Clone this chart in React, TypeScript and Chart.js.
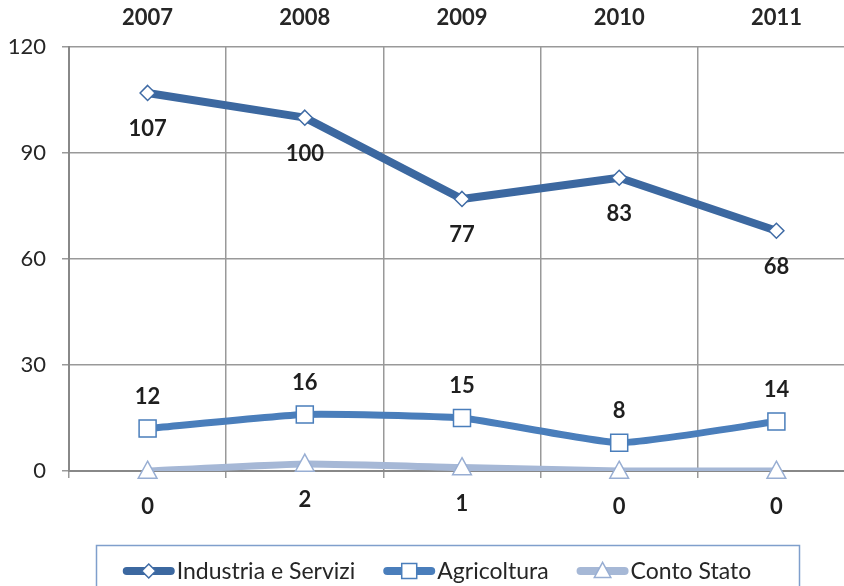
import { useEffect, useRef } from "react";
import { Chart, registerables } from "chart.js";

Chart.register(...registerables);

const years = ["2007", "2008", "2009", "2010", "2011"];
const industria = [107, 100, 77, 83, 68];
const agricoltura = [12, 16, 15, 8, 14];
const contoStato = [0, 2, 1, 0, 0];
const seriesNames = ["Industria e Servizi", "Agricoltura", "Conto Stato"];
const yMin = 0;
const yMax = 120;
const yStep = 30;

const colors = ["#3C68A0", "#4A7EBB", "#A6B8D6"];
const markerBorders = ["#3F6BA5", "#4A7EBB", "#98AED3"];
const markerStyles = ["diamond", "square", "triangle"];
const labelPlacement = ["below", "above", "below"];

const W = 870;
const H = 586;

function drawMarker(ctx: CanvasRenderingContext2D, style: string, x: number, y: number, s: number, stroke: string) {
  ctx.beginPath();
  if (style === "diamond") {
    ctx.moveTo(x, y - s);
    ctx.lineTo(x + s, y);
    ctx.lineTo(x, y + s);
    ctx.lineTo(x - s, y);
    ctx.closePath();
  } else if (style === "square") {
    ctx.rect(x - s, y - s, 2 * s, 2 * s);
  } else {
    ctx.moveTo(x, y - s * 1.15);
    ctx.lineTo(x + s * 1.1, y + s * 0.85);
    ctx.lineTo(x - s * 1.1, y + s * 0.85);
    ctx.closePath();
  }
  ctx.fillStyle = "#ffffff";
  ctx.fill();
  ctx.lineWidth = 1.5;
  ctx.strokeStyle = stroke;
  ctx.stroke();
}

const valueLabels = {
  id: "valueLabels",
  afterDatasetsDraw(chart: any) {
    const ctx = chart.ctx as CanvasRenderingContext2D;
    ctx.save();
    ctx.font = "bold 22px Lato";
    ctx.fillStyle = "#1f1f1f";
    ctx.textAlign = "center";
    ctx.textBaseline = "middle";
    chart.data.datasets.forEach((ds: any, i: number) => {
      const meta = chart.getDatasetMeta(i);
      meta.data.forEach((pt: any, j: number) => {
        const y = labelPlacement[i] === "above" ? pt.y - 32 : pt.y + 36;
        ctx.fillText(String(ds.data[j]), pt.x, y);
      });
    });
    ctx.restore();
  },
};

const customMarkers = {
  id: "customMarkers",
  afterDatasetsDraw(chart: any) {
    const ctx = chart.ctx as CanvasRenderingContext2D;
    ctx.save();
    const n = chart.data.datasets.length;
    for (let i = n - 1; i >= 0; i--) {
      const meta = chart.getDatasetMeta(i);
      const size = i === 0 ? 7.5 : 8.5;
      meta.data.forEach((pt: any) => {
        drawMarker(ctx, markerStyles[i], pt.x, pt.y, size, markerBorders[i]);
      });
    }
    ctx.restore();
  },
};

const legendBox = {
  id: "legendBox",
  afterDraw(chart: any) {
    const ctx = chart.ctx as CanvasRenderingContext2D;
    ctx.save();
    ctx.strokeStyle = "#7F9FCC";
    ctx.lineWidth = 1.5;
    ctx.strokeRect(96.5, 545.5, 703, 60);
    ctx.font = "23px Lato";
    const symW = 52;
    const gap = 28;
    const items = chart.data.datasets.map((d: any) => ({
      label: d.label,
      w: symW + 2 + ctx.measureText(d.label).width,
    }));
    const total = items.reduce((a: number, b: any) => a + b.w, 0) + gap * (items.length - 1);
    let x = 437 - total / 2;
    const y = 571;
    items.forEach((it: any, i: number) => {
      ctx.beginPath();
      ctx.lineCap = "round";
      ctx.lineWidth = 8;
      ctx.strokeStyle = colors[i];
      ctx.moveTo(x + 4, y);
      ctx.lineTo(x + symW - 4, y);
      ctx.stroke();
      drawMarker(ctx, markerStyles[i], x + symW / 2, y, i === 0 ? 7 : 7.5, markerBorders[i]);
      ctx.fillStyle = "#262626";
      ctx.textAlign = "left";
      ctx.textBaseline = "middle";
      ctx.fillText(it.label, x + symW + 2, y + 1);
      x += it.w + gap;
    });
    ctx.restore();
  },
};

export default function App() {
  const canvasRef = useRef<HTMLCanvasElement | null>(null);

  useEffect(() => {
    document.body.style.margin = "0";
    document.body.style.overflow = "hidden";
    document.documentElement.style.overflow = "hidden";
    const canvas = canvasRef.current;
    if (!canvas) return;
    const seriesData = [industria, agricoltura, contoStato];
    const chart = new Chart(canvas, {
      type: "line",
      data: {
        labels: years,
        datasets: seriesData.map((d, i) => ({
          label: seriesNames[i],
          data: d,
          borderColor: colors[i],
          backgroundColor: colors[i],
          borderWidth: i === 0 ? 8 : 7,
          tension: i === 0 ? 0 : 0.15,
          pointRadius: 0,
          pointHoverRadius: 0,
          fill: false,
          borderCapStyle: "butt",
          borderJoinStyle: "round",
          xAxisID: "x",
          yAxisID: "y",
        })),
      },
      options: {
        responsive: false,
        animation: false,
        devicePixelRatio: 1,
        layout: { padding: { left: 0, right: 15, top: 0, bottom: 107 } },
        plugins: {
          legend: { display: false },
          tooltip: { enabled: false },
          title: { display: false },
        },
        scales: {
          x: {
            type: "category",
            position: "bottom",
            offset: true,
            grid: {
              offset: true,
              display: true,
              drawOnChartArea: true,
              drawTicks: true,
              tickLength: 7,
              color: "#999999",
              lineWidth: 1.5,
            },
            border: { display: true, color: "#888888", width: 2 },
            ticks: { display: false },
            afterFit(scale: any) {
              scale.height = 8;
            },
          },
          x2: {
            type: "category",
            position: "top",
            offset: true,
            grid: { display: false, drawTicks: false },
            border: { display: false },
            ticks: {
              display: true,
              padding: 16,
              color: "#262626",
              font: { family: "Lato", size: 22, weight: "bold" },
              maxRotation: 0,
            },
            afterFit(scale: any) {
              scale.height = 47;
            },
          },
          y: {
            type: "linear",
            min: yMin,
            max: yMax,
            position: "left",
            grid: {
              color: "#999999",
              lineWidth: 1.5,
              drawTicks: true,
              tickLength: 7,
            },
            border: { display: true, color: "#888888", width: 2 },
            ticks: {
              stepSize: yStep,
              padding: 16,
              color: "#262626",
              font: { family: "Lato", size: 22 },
            },
            afterFit(scale: any) {
              scale.width = 69;
            },
          },
        },
      },
      plugins: [customMarkers, valueLabels, legendBox],
    } as any);
    return () => chart.destroy();
  }, []);

  return (
    <div style={{ position: "absolute", left: 0, top: 0, width: W, height: H, overflow: "hidden" }}>
      <canvas ref={canvasRef} width={W} height={H} style={{ display: "block", width: W, height: H }} />
    </div>
  );
}
